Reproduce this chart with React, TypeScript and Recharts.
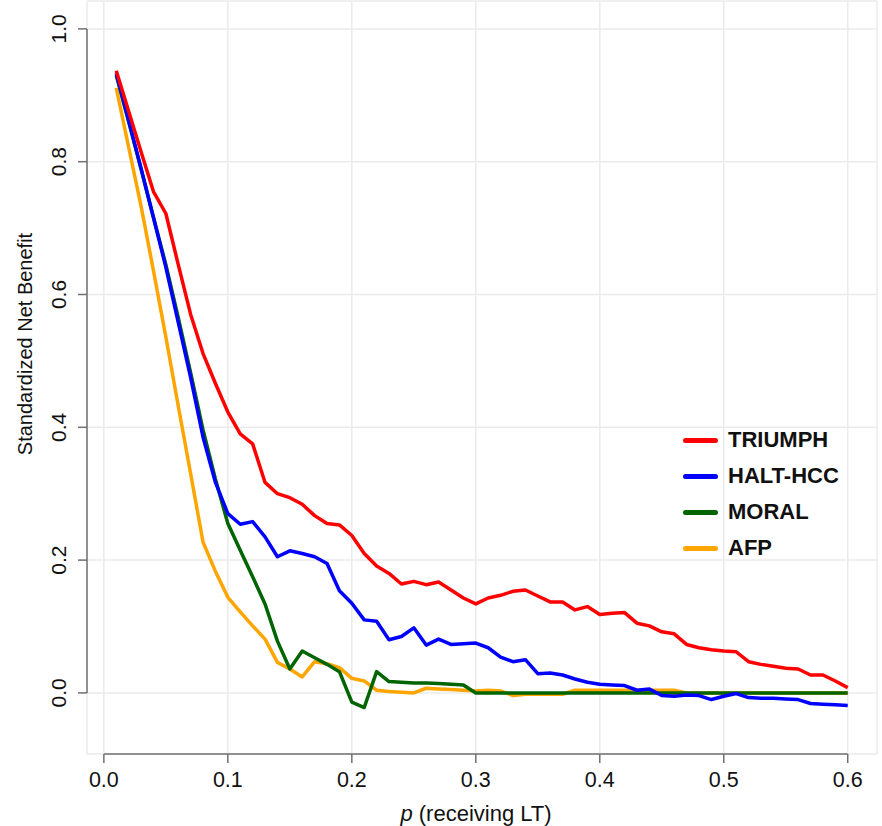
import { CartesianGrid, Line, LineChart, ReferenceLine, XAxis, YAxis } from "recharts";

// threshold probability p (receiving LT)
const P_VALUES = [
  0.01, 0.02, 0.03, 0.04, 0.05, 0.06, 0.07, 0.08, 0.09, 0.1,
  0.11, 0.12, 0.13, 0.14, 0.15, 0.16, 0.17, 0.18, 0.19, 0.2,
  0.21, 0.22, 0.23, 0.24, 0.25, 0.26, 0.27, 0.28, 0.29, 0.3,
  0.31, 0.32, 0.33, 0.34, 0.35, 0.36, 0.37, 0.38, 0.39, 0.4,
  0.41, 0.42, 0.43, 0.44, 0.45, 0.46, 0.47, 0.48, 0.49, 0.5,
  0.51, 0.52, 0.53, 0.54, 0.55, 0.56, 0.57, 0.58, 0.59, 0.6,
];

const TRIUMPH = [
  0.937, 0.876, 0.815, 0.755, 0.722, 0.645, 0.57, 0.511, 0.466, 0.423,
  0.39, 0.375, 0.317, 0.3, 0.294, 0.284, 0.267, 0.255, 0.253, 0.237,
  0.21, 0.191, 0.18, 0.164, 0.168, 0.163, 0.167, 0.155, 0.143, 0.134,
  0.143, 0.147, 0.153, 0.155, 0.146, 0.137, 0.137, 0.125, 0.13, 0.118,
  0.12, 0.121, 0.105, 0.101, 0.092, 0.089, 0.073, 0.068, 0.065, 0.063,
  0.062, 0.047, 0.043, 0.04, 0.037, 0.036, 0.027, 0.027, 0.018, 0.008,
];

const HALT_HCC = [
  0.933, 0.862, 0.79, 0.716, 0.641, 0.558, 0.475, 0.385, 0.317, 0.27,
  0.254, 0.258, 0.235, 0.205, 0.214, 0.21, 0.205, 0.195, 0.154, 0.135,
  0.11, 0.108, 0.08, 0.085, 0.098, 0.072, 0.081, 0.073, 0.074, 0.075,
  0.068, 0.054, 0.047, 0.05, 0.029, 0.03, 0.027, 0.021, 0.016, 0.013,
  0.012, 0.011, 0.004, 0.006, -0.004, -0.005, -0.003, -0.004, -0.01, -0.005,
  -0.001, -0.007, -0.008, -0.008, -0.009, -0.01, -0.016, -0.017, -0.018, -0.019,
];

const MORAL = [
  0.93, 0.86, 0.789, 0.716, 0.645, 0.565, 0.482, 0.396, 0.322, 0.255,
  0.215, 0.175, 0.134, 0.078, 0.036, 0.063, 0.053, 0.043, 0.032, -0.014,
  -0.022, 0.032, 0.017, 0.016, 0.015, 0.015, 0.014, 0.013, 0.012, 0,
  0, 0, 0, 0, 0, 0, 0, 0, 0, 0,
  0, 0, 0, 0, 0, 0, 0, 0, 0, 0,
  0, 0, 0, 0, 0, 0, 0, 0, 0, 0,
];

const AFP = [
  0.911, 0.822, 0.733, 0.636, 0.536, 0.432, 0.33, 0.227, 0.183, 0.144,
  0.122, 0.101, 0.081, 0.046, 0.036, 0.024, 0.047, 0.044, 0.038, 0.022,
  0.018, 0.004, 0.002, 0.001, 0, 0.007, 0.006, 0.005, 0.004, 0.003,
  0.004, 0.003, -0.004, -0.002, -0.002, -0.002, -0.002, 0.004, 0.004, 0.004,
  0.004, 0.004, 0.004, 0.004, 0.004, 0.004, 0, 0, 0, 0,
  0, 0, 0, 0, 0, 0, 0, 0, 0, 0,
];

const X_TICKS = [0, 0.1, 0.2, 0.3, 0.4, 0.5, 0.6];
const Y_TICKS = [0, 0.2, 0.4, 0.6, 0.8, 1.0];

// R-style 4% padding around the data range
const X_DOMAIN: [number, number] = [-0.0136, 0.6236];
const Y_DOMAIN: [number, number] = [-0.092, 1.042];

// drawn bottom to top; legend keeps its own order
const SERIES = [
  { key: "afp", name: "AFP", color: "#ffa500", values: AFP },
  { key: "moral", name: "MORAL", color: "#006400", values: MORAL },
  { key: "halt", name: "HALT-HCC", color: "#0000ff", values: HALT_HCC },
  { key: "triumph", name: "TRIUMPH", color: "#ff0000", values: TRIUMPH },
];
const LEGEND_ORDER = ["triumph", "halt", "moral", "afp"];

const FONT = '"Liberation Sans", Arial, Helvetica, sans-serif';
const AXIS_COLOR = "#707070";

const rows = P_VALUES.map((p, i) => {
  const row: Record<string, number> = { p };
  SERIES.forEach((s) => {
    row[s.key] = s.values[i];
  });
  return row;
});

const XTick = ({ x, payload }: { x: number; payload: { value: number } }) => (
  <text x={x} y={787} textAnchor="middle" fontFamily={FONT} fontSize={21.5} fill="#111">
    {payload.value.toFixed(1)}
  </text>
);

const YTick = ({ y, payload }: { y: number; payload: { value: number } }) => (
  <text
    x={66}
    y={y}
    transform={`rotate(-90, 66, ${y})`}
    textAnchor="middle"
    fontFamily={FONT}
    fontSize={21}
    fill="#111"
  >
    {payload.value.toFixed(1)}
  </text>
);

export default function App() {
  return (
    <div style={{ position: "relative", width: 882, height: 826, background: "#fff" }}>
      <style>{"body{margin:0;background:#fff}"}</style>
      <LineChart width={882} height={826} data={rows} margin={{ top: 1, right: 5, left: 0, bottom: 0 }}>
        <CartesianGrid stroke="#ebebeb" strokeWidth={1.5} />
        <XAxis
          type="number"
          dataKey="p"
          domain={X_DOMAIN}
          ticks={X_TICKS}
          allowDataOverflow
          height={72}
          axisLine={false}
          tickSize={9}
          tickLine={{ stroke: AXIS_COLOR, strokeWidth: 1.5 }}
          tick={XTick}
          label={{
            content: () => (
              <text x={476} y={821} textAnchor="middle" fontFamily={FONT} fontSize={22} fill="#111">
                <tspan fontStyle="italic">p</tspan> (receiving LT)
              </text>
            ),
          }}
        />
        <YAxis
          type="number"
          domain={Y_DOMAIN}
          ticks={Y_TICKS}
          allowDataOverflow
          width={87}
          axisLine={false}
          tickSize={9}
          tickLine={{ stroke: AXIS_COLOR, strokeWidth: 1.5 }}
          tick={YTick}
          label={{
            content: () => (
              <text
                x={32}
                y={344}
                transform="rotate(-90, 32, 344)"
                textAnchor="middle"
                fontFamily={FONT}
                fontSize={20}
                fill="#111"
              >
                Standardized Net Benefit
              </text>
            ),
          }}
        />
        <ReferenceLine
          segment={[
            { x: X_DOMAIN[0], y: Y_TICKS[0] },
            { x: X_DOMAIN[0], y: Y_TICKS[Y_TICKS.length - 1] },
          ]}
          stroke={AXIS_COLOR}
          strokeWidth={1.5}
          ifOverflow="visible"
        />
        <ReferenceLine
          segment={[
            { x: X_TICKS[0], y: Y_DOMAIN[0] },
            { x: X_TICKS[X_TICKS.length - 1], y: Y_DOMAIN[0] },
          ]}
          stroke={AXIS_COLOR}
          strokeWidth={1.5}
          ifOverflow="visible"
        />
        {SERIES.map((s) => (
          <Line
            key={s.key}
            type="linear"
            dataKey={s.key}
            name={s.name}
            stroke={s.color}
            strokeWidth={3.5}
            strokeLinejoin="round"
            dot={false}
            activeDot={false}
            isAnimationActive={false}
          />
        ))}
      </LineChart>
      <div style={{ position: "absolute", left: 683, top: 422, fontFamily: FONT }}>
        {LEGEND_ORDER.map((k) => {
          const s = SERIES.find((d) => d.key === k)!;
          return (
            <div key={k} style={{ display: "flex", alignItems: "center", height: 36 }}>
              <span
                style={{ display: "inline-block", width: 35, height: 5, borderRadius: 3, background: s.color }}
              />
              <span style={{ marginLeft: 10, fontSize: 22, fontWeight: 700, color: "#111" }}>{s.name}</span>
            </div>
          );
        })}
      </div>
    </div>
  );
}
